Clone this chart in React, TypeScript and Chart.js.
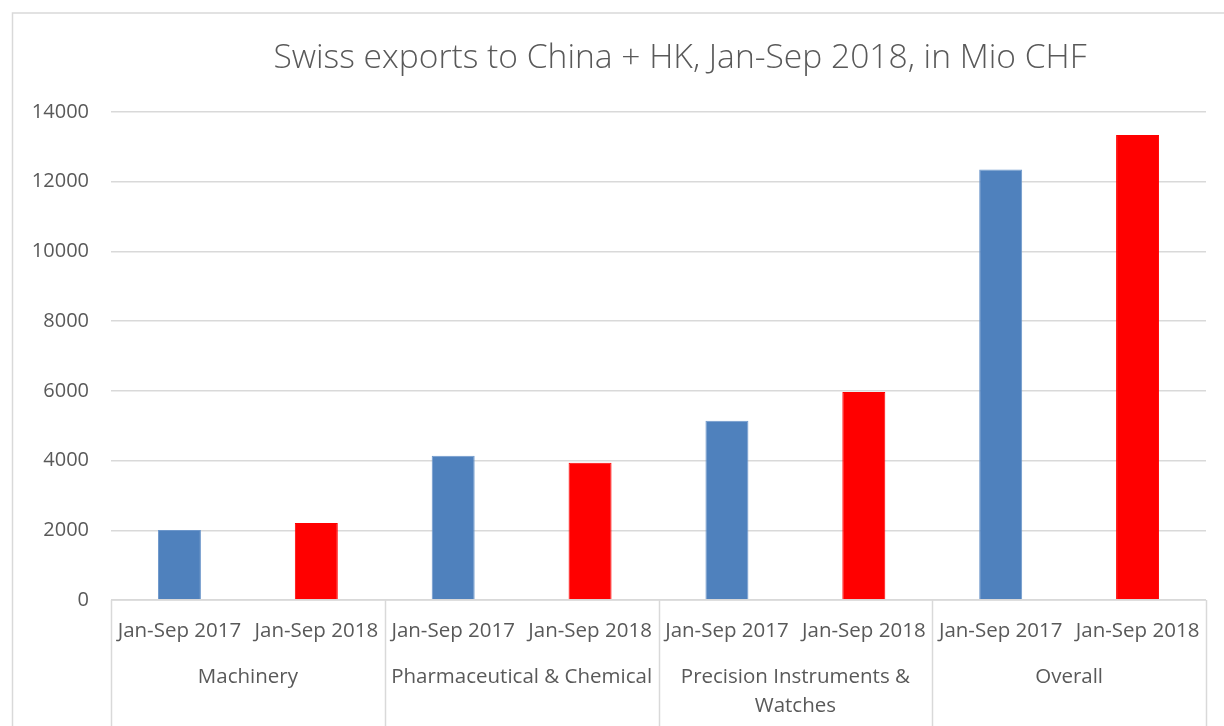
import React, { useEffect, useRef } from "react";
import { Chart, registerables } from "chart.js";

Chart.register(...registerables);

const TITLE = "Swiss exports to China + HK, Jan-Sep 2018, in Mio CHF";
const GROUPS = ["Machinery", "Pharmaceutical & Chemical", "Precision Instruments & Watches", "Overall"];
const GROUP_LINES = [["Machinery"], ["Pharmaceutical & Chemical"], ["Precision Instruments &", "Watches"], ["Overall"]];
const PERIODS = ["Jan-Sep 2017", "Jan-Sep 2018"];
const CATEGORIES = GROUPS.flatMap((g) => PERIODS.map((p) => `${g}|${p}`));
const VALUES = [2010, 2210, 4140, 3940, 5140, 5970, 12350, 13340];
const BAR_COLORS = ["#4F81BD", "#FF0000", "#4F81BD", "#FF0000", "#4F81BD", "#FF0000", "#4F81BD", "#FF0000"];
const Y_MIN = 0;
const Y_MAX = 14000;
const Y_STEP = 2000;

const TEXT = "#595959";
const LINE = "#D9D9D9";
const FONT = "'Open Sans', 'Noto Sans', sans-serif";

const decorPlugin = {
  id: "decor",
  beforeDraw(chart: any) {
    const ctx = chart.ctx;
    ctx.save();
    ctx.fillStyle = "#FFFFFF";
    ctx.fillRect(0, 0, chart.width, chart.height);
    ctx.strokeStyle = LINE;
    ctx.lineWidth = 1.5;
    ctx.beginPath();
    ctx.moveTo(12.5, chart.height + 5);
    ctx.lineTo(12.5, 13);
    ctx.lineTo(chart.width + 5, 13);
    ctx.stroke();
    ctx.restore();
  },
  afterDraw(chart: any) {
    const ctx = chart.ctx;
    const area = chart.chartArea;
    const xs = chart.scales.x;
    const n = CATEGORIES.length;
    const step = (area.right - area.left) / n;
    ctx.save();
    // title
    ctx.fillStyle = TEXT;
    ctx.font = `300 33.6px ${FONT}`;
    ctx.textAlign = "center";
    ctx.textBaseline = "alphabetic";
    ctx.fillText(TITLE, 680, 68);
    // axis line and separators
    ctx.strokeStyle = LINE;
    ctx.lineWidth = 1.5;
    ctx.beginPath();
    ctx.moveTo(area.left, area.bottom);
    ctx.lineTo(area.right, area.bottom);
    for (let g = 0; g <= GROUPS.length; g++) {
      const x = Math.round(area.left + g * step * PERIODS.length) + 0.5;
      ctx.moveTo(x, area.bottom);
      ctx.lineTo(x, chart.height + 5);
    }
    ctx.stroke();
    // labels
    ctx.fillStyle = TEXT;
    ctx.font = `20.5px ${FONT}`;
    ctx.textAlign = "center";
    ctx.textBaseline = "middle";
    for (let i = 0; i < n; i++) {
      const x = xs.getPixelForValue(i);
      ctx.fillText(PERIODS[i % PERIODS.length], x, area.bottom + 31);
    }
    GROUP_LINES.forEach((lines, g) => {
      const x = area.left + (g + 0.5) * step * PERIODS.length;
      lines.forEach((t, k) => {
        ctx.fillText(t, x, area.bottom + 77 + k * 29);
      });
    });
    ctx.restore();
  },
};

export default function App() {
  const ref = useRef<HTMLCanvasElement | null>(null);
  useEffect(() => {
    document.body.style.margin = "0";
    const chart = new Chart(ref.current as HTMLCanvasElement, {
      type: "bar",
      data: {
        labels: CATEGORIES,
        datasets: [
          {
            data: VALUES,
            backgroundColor: BAR_COLORS,
            borderColor: BAR_COLORS.map((c) => (c === "#4F81BD" ? "#6D97CB" : c)),
            borderWidth: 1,
            categoryPercentage: 1,
            barPercentage: 0.314,
          },
        ],
      },
      plugins: [decorPlugin],
      options: {
        responsive: false,
        animation: false,
        devicePixelRatio: 1,
        layout: { padding: { left: 12, right: 18, top: 112, bottom: 0 } },
        plugins: { legend: { display: false }, title: { display: false }, tooltip: { enabled: false } },
        scales: {
          x: {
            grid: { display: false },
            border: { display: false },
            ticks: { display: false },
            afterFit(scale: any) {
              scale.height = 126;
            },
          },
          y: {
            min: Y_MIN,
            max: Y_MAX,
            border: { display: false },
            grid: { color: LINE, lineWidth: 1.5, drawTicks: false },
            ticks: {
              stepSize: Y_STEP,
              padding: 22,
              color: TEXT,
              font: { family: FONT, size: 20 },
              callback: (v: any) => String(v),
            },
            afterFit(scale: any) {
              scale.width = 99;
            },
          },
        },
      },
    });
    return () => chart.destroy();
  }, []);
  return (
    <div style={{ position: "absolute", left: 0, top: 0, width: 1224, height: 726 }}>
      <canvas ref={ref} width={1224} height={726} style={{ width: 1224, height: 726 }} />
    </div>
  );
}
